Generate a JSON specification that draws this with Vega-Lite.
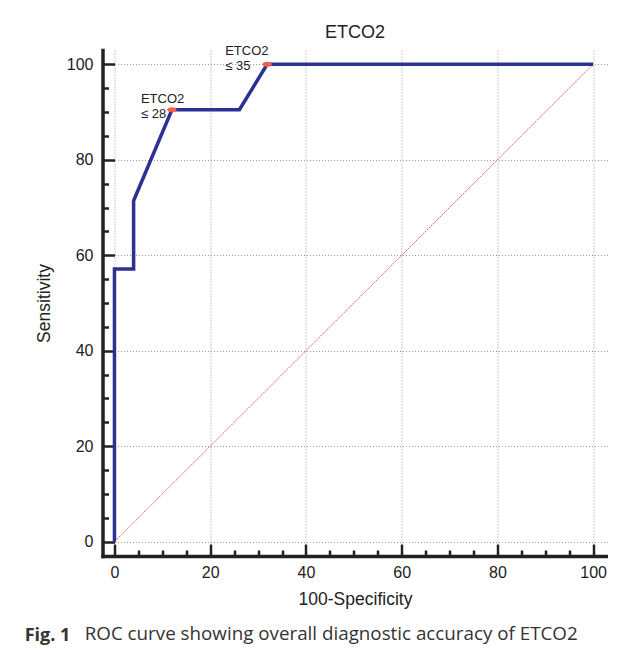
{
  "$schema": "https://vega.github.io/schema/vega-lite/v6.json",
  "padding": {"left": 24.5, "top": 24, "right": 0, "bottom": 0},
  "background": "white",
  "config": {"view": {"stroke": null}, "font": "Liberation Sans"},
  "datasets": {
    "roc": [
      {"i": 0, "x": 0, "y": 0},
      {"i": 1, "x": 0, "y": 57.14},
      {"i": 2, "x": 4, "y": 57.14},
      {"i": 3, "x": 4, "y": 71.43},
      {"i": 4, "x": 12, "y": 90.48},
      {"i": 5, "x": 26.1, "y": 90.48},
      {"i": 6, "x": 31.9, "y": 100},
      {"i": 7, "x": 100, "y": 100}
    ],
    "diag": [
      {"i": 0, "x": 0, "y": 0},
      {"i": 1, "x": 100, "y": 100}
    ],
    "crit": [
      {"x": 12, "y": 90.48, "label": "ETCO2\n≤ 28"},
      {"x": 31.9, "y": 100, "label": "ETCO2\n≤ 35"}
    ]
  },
  "bounds": "flush",
  "spacing": 103,
  "vconcat": [
    {
      "width": 505,
      "height": 506,
      "title": {"text": "ETCO2", "frame": "group", "anchor": "middle", "fontSize": 18, "fontWeight": "normal", "font": "Liberation Sans", "color": "#222", "offset": 3},
      "resolve": {"axis": {"x": "independent", "y": "independent"}},
      "layer": [
        {
          "data": {"name": "diag"},
          "mark": {"type": "line", "color": "#d9534f", "strokeWidth": 1, "strokeDash": [2, 1], "opacity": 0.9},
          "encoding": {
            "x": {"field": "x", "type": "quantitative", "scale": {"domain": [-2.5, 103], "nice": false, "zero": false},
              "axis": {"title": "100-Specificity", "orient": "bottom", "values": [0, 20, 40, 60, 80, 100], "grid": true, "gridColor": "#999", "gridDash": [1, 2], "gridWidth": 1, "domainColor": "#222", "domainWidth": 3.5, "domainCap": "square", "tickColor": "#222", "tickWidth": 2.5, "tickSize": -12, "labelPadding": 20.5, "labelFontSize": 16, "labelColor": "#222", "labelFont": "Liberation Sans", "labelFlush": false, "labelOverlap": false, "titleFont": "Liberation Sans", "titleFontSize": 17.5, "titleFontWeight": "normal", "titleColor": "#222", "titlePadding": 10}},
            "y": {"field": "y", "type": "quantitative", "scale": {"domain": [-3, 103], "nice": false, "zero": false},
              "axis": {"title": "Sensitivity", "orient": "left", "values": [0, 20, 40, 60, 80, 100], "grid": true, "gridColor": "#999", "gridDash": [1, 2], "gridWidth": 1, "domainColor": "#222", "domainWidth": 3.5, "domainCap": "square", "tickColor": "#222", "tickWidth": 2.5, "tickSize": -12, "labelPadding": 21.5, "labelFontSize": 16, "labelColor": "#222", "labelFont": "Liberation Sans", "labelFlush": false, "labelOverlap": false, "titleFont": "Liberation Sans", "titleFontSize": 17.5, "titleFontWeight": "normal", "titleColor": "#222", "titlePadding": 13}},
            "order": {"field": "i", "type": "quantitative"}
          }
        },
        {
          "data": {"name": "roc"},
          "mark": {"type": "line", "color": "#2d3194", "strokeWidth": 3.5, "strokeJoin": "miter", "strokeCap": "butt"},
          "encoding": {
            "x": {"field": "x", "type": "quantitative",
              "axis": {"title": null, "orient": "bottom", "values": [5, 10, 15, 25, 30, 35, 45, 50, 55, 65, 70, 75, 85, 90, 95], "labels": false, "domain": false, "grid": false, "tickSize": -6, "tickWidth": 2.5, "tickColor": "#222"}},
            "y": {"field": "y", "type": "quantitative",
              "axis": {"title": null, "orient": "left", "values": [5, 10, 15, 25, 30, 35, 45, 50, 55, 65, 70, 75, 85, 90, 95], "labels": false, "domain": false, "grid": false, "tickSize": -6, "tickWidth": 2.5, "tickColor": "#222"}},
            "order": {"field": "i", "type": "quantitative"}
          }
        },
        {
          "data": {"name": "crit"},
          "mark": {"type": "point", "shape": "M -1 0 A 1 0.55 0 1 0 1 0 A 1 0.55 0 1 0 -1 0 Z", "filled": true, "color": "#f0604d", "opacity": 1, "size": 90},
          "encoding": {
            "x": {"field": "x", "type": "quantitative", "axis": null},
            "y": {"field": "y", "type": "quantitative", "axis": null}
          }
        },
        {
          "data": {"name": "crit"},
          "transform": [{"filter": "datum.x < 20"}],
          "mark": {"type": "text", "align": "left", "baseline": "alphabetic", "dx": -31, "dy": -6.5, "fontSize": 13, "font": "Liberation Sans", "color": "#222", "lineBreak": "\n", "lineHeight": 14.5},
          "encoding": {
            "x": {"field": "x", "type": "quantitative", "axis": null},
            "y": {"field": "y", "type": "quantitative", "axis": null},
            "text": {"field": "label"}
          }
        },
        {
          "data": {"name": "crit"},
          "transform": [{"filter": "datum.x >= 20"}],
          "mark": {"type": "text", "align": "left", "baseline": "alphabetic", "dx": -42, "dy": -9, "fontSize": 13, "font": "Liberation Sans", "color": "#222", "lineBreak": "\n", "lineHeight": 15},
          "encoding": {
            "x": {"field": "x", "type": "quantitative", "axis": null},
            "y": {"field": "y", "type": "quantitative", "axis": null},
            "text": {"field": "label"}
          }
        }
      ]
    },
    {
      "bounds": "flush",
      "spacing": 0,
      "hconcat": [
        {
          "width": 59.5,
          "height": 1,
          "data": {"values": []},
          "mark": "point",
          "title": {"text": "Fig. 1", "orient": "top", "anchor": "start", "frame": "group", "dx": -77.8, "offset": 0, "baseline": "alphabetic", "font": "Open Sans", "fontSize": 18, "fontWeight": "bold", "color": "#333"}
        },
        {
          "width": 400,
          "height": 1,
          "data": {"values": []},
          "mark": "point",
          "title": {"text": "ROC curve showing overall diagnostic accuracy of ETCO2", "orient": "top", "anchor": "start", "frame": "group", "dx": -77.8, "offset": 0, "baseline": "alphabetic", "font": "Open Sans", "fontSize": 18.8, "fontWeight": "normal", "color": "#333"}
        }
      ]
    }
  ]
}
